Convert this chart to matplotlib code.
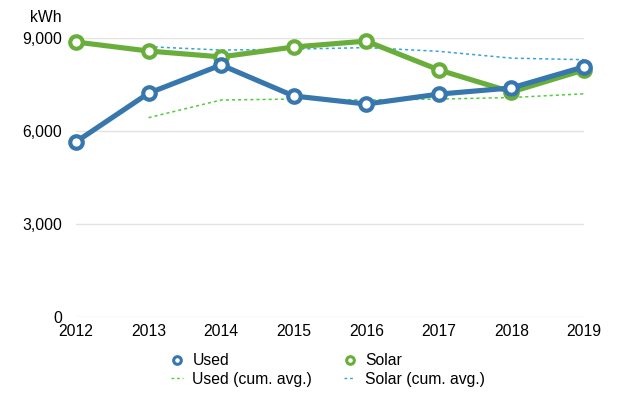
import matplotlib.pyplot as plt
from matplotlib.lines import Line2D

plt.rcParams['font.family'] = ['Liberation Sans', 'DejaVu Sans']

years = [2012, 2013, 2014, 2015, 2016, 2017, 2018, 2019]
used = [5650, 7220, 8130, 7130, 6870, 7190, 7390, 8070]
solar = [8870, 8580, 8390, 8710, 8900, 7970, 7260, 7970]
# cumulative averages (start in 2013)
avg_years = [2013, 2014, 2015, 2016, 2017, 2018, 2019]
used_avg = [6430, 7000, 7030, 7000, 7030, 7080, 7200]
solar_avg = [8720, 8610, 8640, 8690, 8570, 8350, 8300]

blue = '#3777ad'
green = '#69ae3b'
fs = 11.3

fig = plt.figure(figsize=(6.22, 3.96), dpi=100)
ax = fig.add_axes([76/622, 1-317/396, 508/622, 279/396])

ax.plot(avg_years, used_avg, color='#4fcf3a', lw=1.1, ls=(0, (2, 2)), zorder=2)
ax.plot(avg_years, solar_avg, color='#35a3dc', lw=1.1, ls=(0, (2, 2)), zorder=2)

ax.plot(years, solar, color=green, lw=3.7, marker='o', ms=9, mfc='white',
        mec=green, mew=3, clip_on=False, zorder=3)
ax.plot(years, used, color=blue, lw=3.7, marker='o', ms=9, mfc='white',
        mec=blue, mew=3, clip_on=False, zorder=4)

ax.set_xlim(2012, 2019)
ax.set_ylim(0, 9000)
ax.set_yticks([0, 3000, 6000, 9000])
ax.set_yticklabels(['0', '3,000', '6,000', '9,000'])
ax.set_xticks(years)
ax.set_xticklabels([str(y) for y in years])
ax.grid(axis='y', color='#e3e3e3', lw=1)
ax.set_axisbelow(True)
for s in ax.spines.values():
    s.set_visible(False)
ax.tick_params(length=0, labelsize=fs, colors='black')
ax.tick_params(axis='x', pad=5)
ax.tick_params(axis='y', pad=10)
fig.text(62/622, 1-18/396, 'kWh', ha='right', va='center', fontsize=fs)

handles = [
    Line2D([], [], ls='none', marker='o', ms=5.5, mfc='white', mec=blue, mew=2.2),
    Line2D([], [], color='#4fcf3a', lw=1, ls=(0, (2, 2))),
    Line2D([], [], ls='none', marker='o', ms=5.5, mfc='white', mec=green, mew=2.2),
    Line2D([], [], color='#35a3dc', lw=1, ls=(0, (2, 2))),
]
labels = ['Used', 'Used (cum. avg.)', 'Solar', 'Solar (cum. avg.)']
fig.legend(handles, labels, ncol=2, frameon=False, loc='center',
           bbox_to_anchor=(328/622, 1-370/396), fontsize=fs,
           handlelength=0.75, handletextpad=0.6, columnspacing=2.0,
           labelspacing=0.2)

fig.savefig('out.png', dpi=100)
